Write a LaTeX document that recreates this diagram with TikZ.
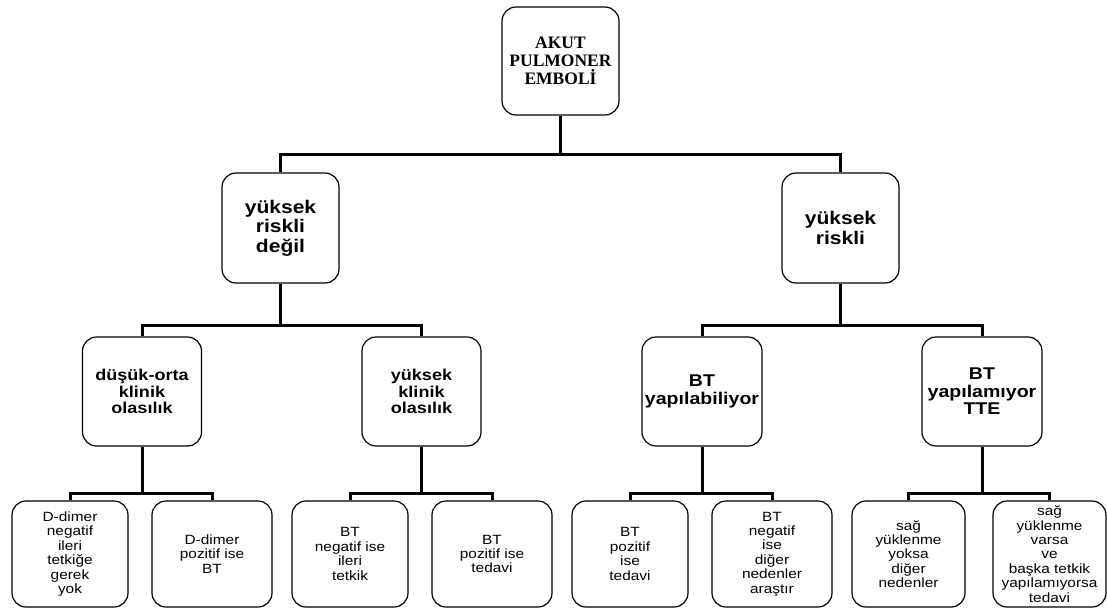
\documentclass[tikz,border=0pt]{standalone}
\usepackage{fontspec}
\setmainfont{Liberation Sans}
\newfontfamily\widesans{Liberation Sans}[FakeStretch=1.15]
\newfontfamily\tnrfont{Liberation Serif}
\begin{document}
\begin{tikzpicture}[x=1pt,y=-1pt,
  box/.style={draw, line width=1.2pt, rounded corners=14pt, align=center, inner sep=2pt},
  lvlzero/.style={box, minimum width=117pt, minimum height=108pt, font=\tnrfont\bfseries\fontsize{17.5}{18.3}\selectfont},
  lvlone/.style={box, minimum width=117pt, minimum height=110pt, font=\widesans\bfseries\fontsize{18.3}{19.5}\selectfont},
  lvltwoa/.style={box, minimum width=119pt, minimum height=109pt, font=\widesans\bfseries\fontsize{15.7}{16.5}\selectfont},
  lvltwob/.style={box, minimum width=120pt, minimum height=109pt, font=\widesans\bfseries\fontsize{17}{17.5}\selectfont},
  leaf/.style={box, minimum height=106pt, font=\widesans\fontsize{13.4}{14.4}\selectfont},
  conn/.style={line width=3pt}
]
\useasboundingbox (0,0) rectangle (1107,610);

% nodes
\node[lvlzero] (root) at (560.5,61) {AKUT\\PULMONER\\EMBOLİ};

\node[lvlone] (nothigh) at (280.5,228) {yüksek\\riskli\\değil};
\node[lvlone] (high) at (840.5,228) {yüksek\\riskli};

\node[lvltwoa] (lowmid) at (142,391.5) {düşük-orta\\klinik\\olasılık};
\node[lvltwoa] (highclin) at (421.5,391.5) {yüksek\\klinik\\olasılık};
\node[lvltwob] (btyes) at (702,391.5) {BT\\yapılabiliyor};
\node[lvltwob] (btno) at (982,391.5) {BT\\yapılamıyor\\TTE};

\node[leaf, minimum width=116pt] (la) at (70,554) {D-dimer\\negatif\\ileri\\tetkiğe\\gerek\\yok};
\node[leaf, minimum width=120pt] (lb) at (212,554) {D-dimer\\pozitif ise\\BT};
\node[leaf, minimum width=116pt] (lc) at (350,554) {BT\\negatif ise\\ileri\\tetkik};
\node[leaf, minimum width=120pt] (ld) at (492,554) {BT\\pozitif ise\\tedavi};
\node[leaf, minimum width=116pt] (le) at (630,554) {BT\\pozitif\\ise\\tedavi};
\node[leaf, minimum width=120pt] (lf) at (772,554) {BT\\negatif\\ise\\diğer\\nedenler\\araştır};
\node[leaf, minimum width=113pt] (lg) at (908.5,554) {sağ\\yüklenme\\yoksa\\diğer\\nedenler};
\node[leaf, minimum width=113pt] (lh) at (1049.5,554) {sağ\\yüklenme\\varsa\\ve\\başka tetkik\\yapılamıyorsa\\tedavi};

% bar levels
\coordinate (barA) at (0,154);
\coordinate (barB) at (0,325);
\coordinate (barC) at (0,493);

% connectors
\draw[conn] (root.south) -- (root.south |- barA) -| (nothigh.north);
\draw[conn] (root.south |- barA) -| (high.north);

\draw[conn] (nothigh.south) -- (nothigh.south |- barB) -| (lowmid.north);
\draw[conn] (nothigh.south |- barB) -| (highclin.north);
\draw[conn] (high.south) -- (high.south |- barB) -| (btyes.north);
\draw[conn] (high.south |- barB) -| (btno.north);

\draw[conn] (lowmid.south) -- (lowmid.south |- barC) -| (la.north);
\draw[conn] (lowmid.south |- barC) -| (lb.north);
\draw[conn] (highclin.south) -- (highclin.south |- barC) -| (lc.north);
\draw[conn] (highclin.south |- barC) -| (ld.north);
\draw[conn] (btyes.south) -- (btyes.south |- barC) -| (le.north);
\draw[conn] (btyes.south |- barC) -| (lf.north);
\draw[conn] (btno.south) -- (btno.south |- barC) -| (lg.north);
\draw[conn] (btno.south |- barC) -| (lh.north);
\end{tikzpicture}
\end{document}
